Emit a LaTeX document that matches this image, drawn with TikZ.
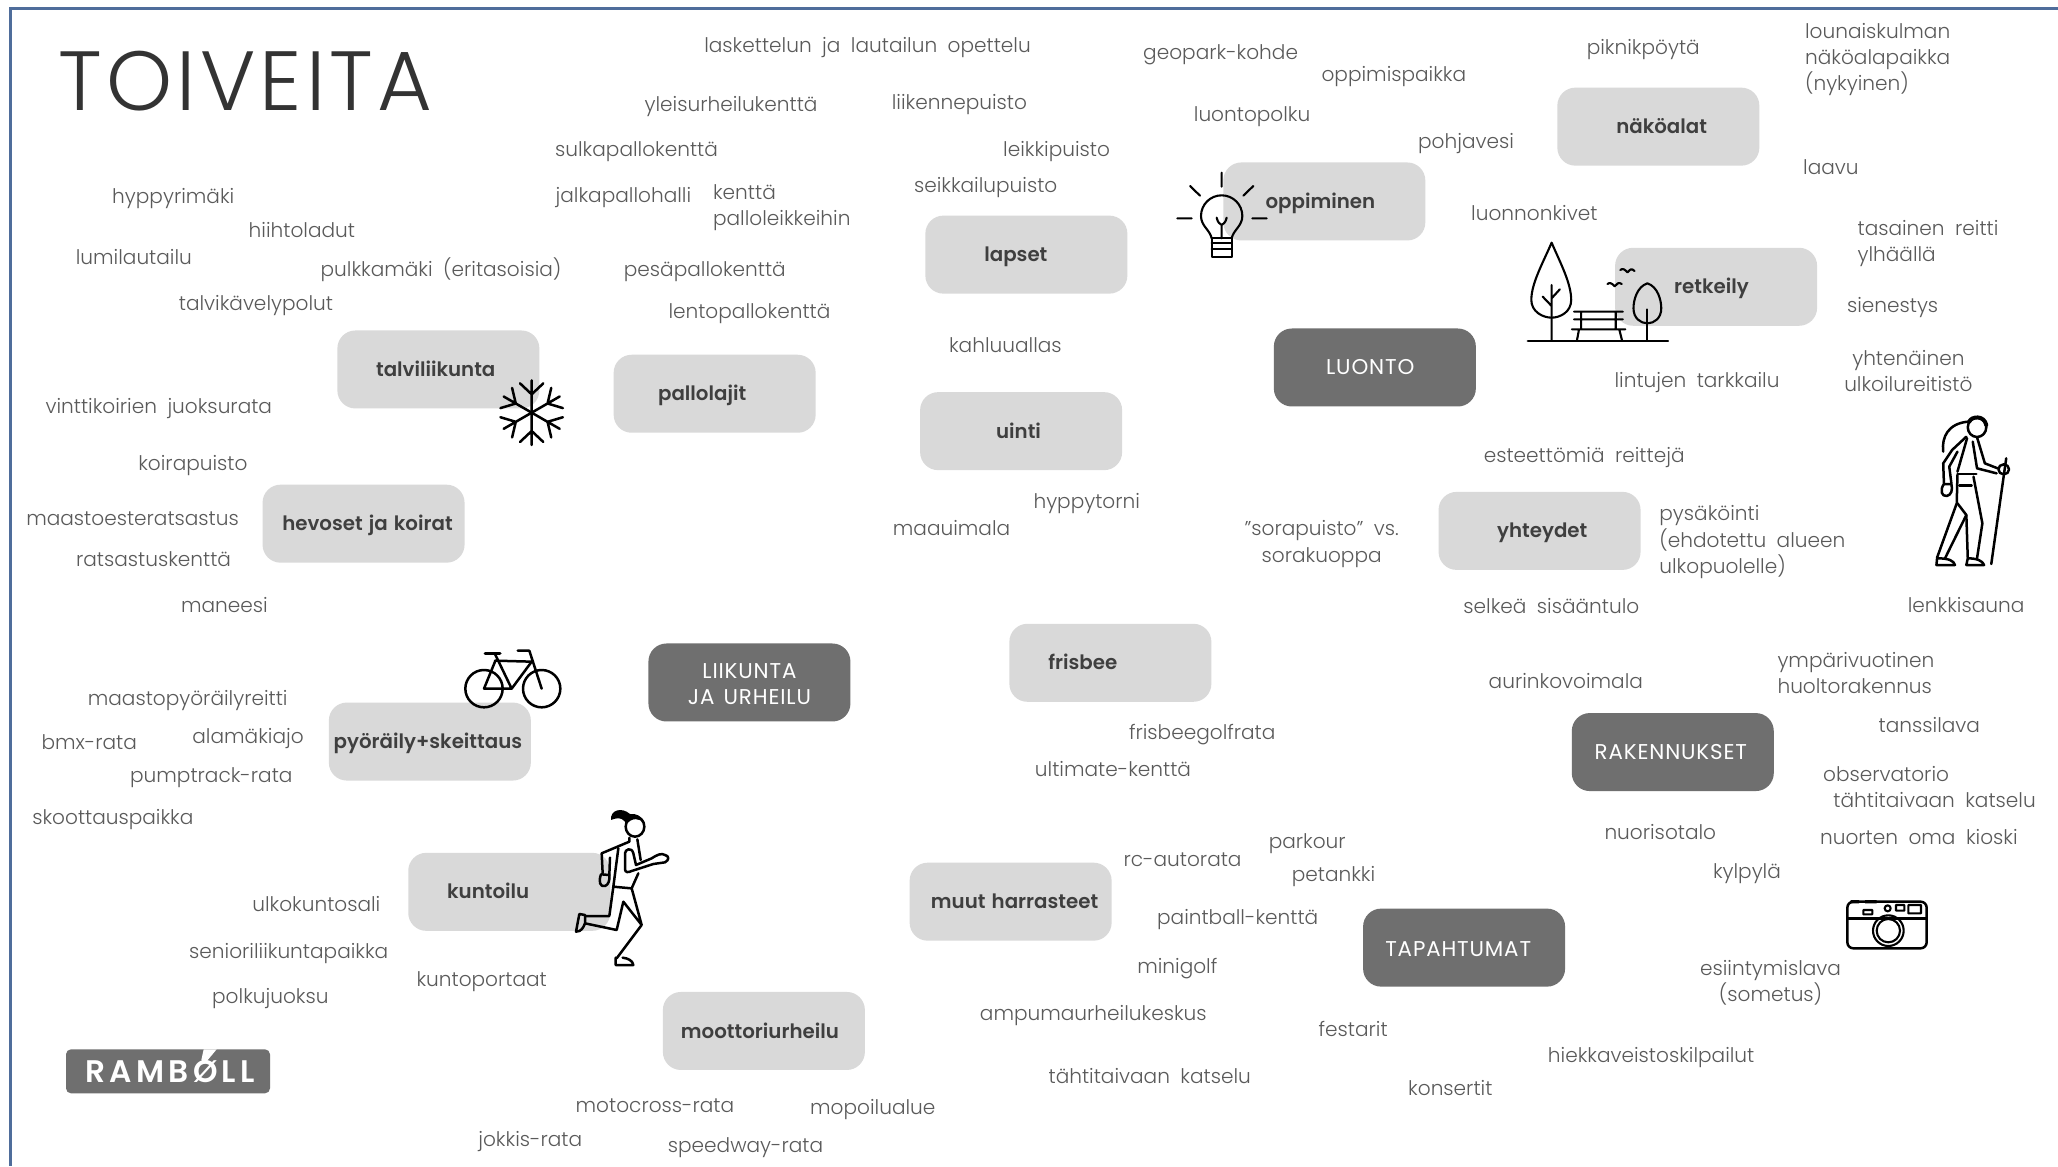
\documentclass[tikz,border=0pt]{standalone}
\usepackage{fontspec}
\setmainfont{Poppins Light}[WordSpace=1.9]
\newfontfamily\semi{Poppins SemiBold}[WordSpace=1.3]
\newfontfamily\darkf{Poppins Regular}[LetterSpace=4,WordSpace=1.4]
\newfontfamily\logof{Poppins SemiBold}[LetterSpace=14]
\newfontfamily\titlef{Poppins Light}[LetterSpace=5]
\definecolor{lgray}{HTML}{D9D9D9}
\definecolor{dgray}{HTML}{6F6F6F}
\definecolor{lab}{HTML}{5A5A5A}
\definecolor{boxt}{HTML}{3F3F3F}
\definecolor{frame}{HTML}{4F6D9B}
\tikzset{
 lbl/.style={text=lab,font=\fontsize{10.05}{13.1}\selectfont,inner sep=0pt,text height=7pt,text depth=2pt,yshift=-1pt},
 mlbl/.style={text=lab,font=\fontsize{10.05}{13.1}\selectfont,inner sep=0pt,yshift=-1pt},
 lbox/.style={fill=lgray,rounded corners=9pt,minimum width=101pt,minimum height=39pt,inner sep=0pt},
 dbox/.style={fill=dgray,rounded corners=9pt,minimum width=101pt,minimum height=39pt,inner sep=0pt},
 ltx/.style={text=boxt,font=\semi\fontsize{9.9}{13}\selectfont,inner sep=0pt,text height=7pt,text depth=2pt,yshift=-1pt},
 dtx/.style={text=white,font=\darkf\fontsize{10.7}{13.1}\selectfont,inner sep=0pt,align=center},
 icon/.style={line width=1.05pt,draw=black,line cap=round,line join=round},
 ficon/.style={line width=1.25pt,draw=black,line cap=round,line join=round},
}
\newcommand{\IconAt}[2]{\begin{scope}[shift={(#1/1.3125,#2/1.3125)},x=0.16667pt,y=-0.16667pt]}
\begin{document}
\begin{tikzpicture}[x=0.65625pt,y=-0.65625pt]
\useasboundingbox (0,0) rectangle (1568,888.4);
\fill[white] (0,0) rectangle (1568,888.4);
\draw[frame,line width=1.5pt] (1568,6.8) -- (7.8,6.8) -- (7.8,888.4);
\node[text=black!80,font=\titlef\fontsize{42}{42}\selectfont,inner sep=0pt,anchor=center] (title) at (187,62) {TOIVEITA};
% boxes
\node[lbox] (b1) at (334,281.5) {};
\node[lbox] (b2) at (544.5,300) {};
\node[lbox] (b3) at (782,194) {};
\node[lbox] (b4) at (778,328.5) {};
\node[lbox] (b5) at (277,399) {};
\node[lbox] (b6) at (327.5,565) {};
\node[lbox] (b7) at (388,679.5) {};
\node[lbox] (b8) at (582,785.5) {};
\node[lbox] (b9) at (770,687) {};
\node[lbox] (b10) at (846,505) {};
\node[lbox] (b11) at (1009,153.5) {};
\node[lbox] (b12) at (1263.5,96.5) {};
\node[lbox] (b13) at (1307.5,218.5) {};
\node[lbox] (b14) at (1173,404.5) {};
\node[dbox] (d1) at (571,520) {};
\node[dbox] (d2) at (1047.5,280) {};
\node[dbox] (d3) at (1274.5,573) {};
\node[dbox] (d4) at (1115.5,722) {};
% box texts
\node[ltx] (x1) at (332,281.5) {talviliikunta};
\node[ltx] (x2) at (535,299.5) {pallolajit};
\node[ltx] (x3) at (774,194) {lapset};
\node[ltx] (x4) at (776,328.5) {uinti};
\node[ltx] (x5) at (280,399) {hevoset ja koirat};
\node[ltx] (x6) at (326,565) {pyöräily+skeittaus};
\node[ltx] (x7) at (372,679) {kuntoilu};
\node[ltx] (x8) at (579,786) {moottoriurheilu};
\node[ltx] (x9) at (773,687) {muut harrasteet};
\node[ltx] (x10) at (825,505) {frisbee};
\node[ltx] (x11) at (1006,153.5) {oppiminen};
\node[ltx] (x12) at (1266,96.5) {näköalat};
\node[ltx] (x13) at (1304,218.5) {retkeily};
\node[ltx] (x14) at (1175,404) {yhteydet};
\node[dtx] (y1) at (571,521) {LIIKUNTA\\JA URHEILU};
\node[dtx] (y2) at (1044,280) {LUONTO};
\node[dtx] (y3) at (1273,573) {RAKENNUKSET};
\node[dtx] (y4) at (1111,723) {TAPAHTUMAT};
% labels
\node[lbl] (t1) at (661,35) {laskettelun ja lautailun opettelu};
\node[lbl] (t2) at (557,80) {yleisurheilukenttä};
\node[lbl] (t3) at (731,78) {liikennepuisto};
\node[lbl] (t4) at (485,114) {sulkapallokenttä};
\node[lbl] (t5) at (805,114) {leikkipuisto};
\node[lbl] (t6) at (751,141) {seikkailupuisto};
\node[lbl] (t7) at (475,149) {jalkapallohalli};
\node[mlbl,align=left,anchor=west] (t8) at (543,156.5) {kenttä\\palloleikkeihin};
\node[lbl] (t9) at (132,150) {hyppyrimäki};
\node[lbl] (t10) at (230,176) {hiihtoladut};
\node[lbl] (t11) at (102,196) {lumilautailu};
\node[lbl] (t12) at (336,205) {pulkkamäki (eritasoisia)};
\node[lbl] (t13) at (537,205) {pesäpallokenttä};
\node[lbl] (t14) at (195,231) {talvikävelypolut};
\node[lbl] (t15) at (571,237) {lentopallokenttä};
\node[lbl] (t16) at (766,263) {kahluuallas};
\node[lbl] (t17) at (121,310) {vinttikoirien juoksurata};
\node[lbl] (t18) at (147,353) {koirapuisto};
\node[lbl] (t19) at (101,395) {maastoesteratsastus};
\node[lbl] (t20) at (117,426) {ratsastuskenttä};
\node[lbl] (t21) at (171,461) {maneesi};
\node[lbl] (t22) at (828,382) {hyppytorni};
\node[lbl] (t23) at (725,403) {maauimala};
\node[lbl] (t24) at (143,532) {maastopyöräilyreitti};
\node[lbl] (t25) at (189,561) {alamäkiajo};
\node[lbl] (t26) at (68,566) {bmx-rata};
\node[lbl] (t27) at (161,591) {pumptrack-rata};
\node[lbl] (t28) at (86,623) {skoottauspaikka};
\node[lbl] (t29) at (241,689) {ulkokuntosali};
\node[lbl] (t30) at (220,725) {senioriliikuntapaikka};
\node[lbl] (t31) at (367,746) {kuntoportaat};
\node[lbl] (t32) at (206,759) {polkujuoksu};
\node[lbl] (t33) at (499,842) {motocross-rata};
\node[lbl] (t34) at (665,844) {mopoilualue};
\node[lbl] (t35) at (404,868) {jokkis-rata};
\node[lbl] (t36) at (568,873) {speedway-rata};
\node[lbl] (t37) at (916,558) {frisbeegolfrata};
\node[lbl] (t38) at (848,586) {ultimate-kenttä};
\node[lbl] (t39) at (901,655) {rc-autorata};
\node[lbl] (t40) at (996,641) {parkour};
\node[lbl] (t41) at (1016,666) {petankki};
\node[lbl] (t42) at (943,699) {paintball-kenttä};
\node[lbl] (t43) at (897,736) {minigolf};
\node[lbl] (t44) at (833,772) {ampumaurheilukeskus};
\node[lbl] (t45) at (876,820) {tähtitaivaan katselu};
\node[lbl] (t46) at (1031,784) {festarit};
\node[lbl] (t47) at (1105,829) {konsertit};
\node[lbl] (t48) at (1258,804) {hiekkaveistoskilpailut};
\node[mlbl,align=center] (t49) at (1349,747) {esiintymislava\\(sometus)};
\node[lbl] (t50) at (1331,664) {kylpylä};
\node[lbl] (t51) at (1265,634) {nuorisotalo};
\node[lbl] (t52) at (1462,638) {nuorten oma kioski};
\node[lbl] (t53) at (1474,610) {tähtitaivaan katselu};
\node[lbl] (t54) at (1437,590) {observatorio};
\node[lbl] (t55) at (1470,553) {tanssilava};
\node[mlbl,align=left,anchor=west] (t56) at (1354,511.5) {ympärivuotinen\\huoltorakennus};
\node[lbl] (t57) at (1193,519) {aurinkovoimala};
\node[lbl] (t58) at (1182,462) {selkeä sisääntulo};
\node[lbl] (t59) at (1498,461) {lenkkisauna};
\node[mlbl,align=left,anchor=west] (t60) at (1264,411.5) {pysäköinti\\(ehdotettu alueen\\ulkopuolelle)};
\node[lbl] (t61) at (1207,347) {esteettömiä reittejä};
\node[mlbl,align=center] (t62) at (1007,413) {"sorapuisto" vs.\\sorakuoppa};
\node[lbl] (t63) at (1293,290) {lintujen tarkkailu};
\node[mlbl,align=center] (t64) at (1454,281) {yhtenäinen\\ulkoilureitistö};
\node[lbl] (t65) at (1442,233) {sienestys};
\node[mlbl,align=left,anchor=west] (t66) at (1415,184) {tasainen reitti\\ylhäällä};
\node[lbl] (t67) at (1395,128) {laavu};
\node[lbl] (t68) at (1169,163) {luonnonkivet};
\node[lbl] (t69) at (1117,108) {pohjavesi};
\node[lbl] (t70) at (954,87) {luontopolku};
\node[lbl] (t71) at (1062,57) {oppimispaikka};
\node[lbl] (t72) at (930,40) {geopark-kohde};
\node[lbl] (t73) at (1252,36) {piknikpöytä};
\node[mlbl,align=left,anchor=west] (t74) at (1375,44) {lounaiskulman\\näköalapaikka\\(nykyinen)};
% bulb
\IconAt{1150}{150}
\draw[icon] (185,265) .. controls (180,240) and (153,228) .. (153,198) arc (180:360:62) .. controls (277,228) and (250,240) .. (245,265);
\draw[icon] (185,265) rectangle (245,320) (185,280) -- (245,280) (185,298) -- (245,298);
\draw[icon] (215,265) -- (215,225) (200,203) .. controls (203,218) and (210,222) .. (215,225) .. controls (220,222) and (227,218) .. (230,203);
\draw[icon] (215,68) -- (215,110) (120,108) -- (150,137) (310,108) -- (280,137) (82,205) -- (125,205) (307,205) -- (350,205);
\end{scope}
% park and hiker
\begin{scope}[shift={(1500/1.3125,220/1.3125)},x=0.178pt,y=-0.16667pt]
\draw[icon] (145,68) .. controls (120,130) and (88,190) .. (88,240) .. controls (88,275) and (120,293) .. (145,293) .. controls (170,293) and (200,275) .. (200,240) .. controls (200,190) and (170,130) .. (145,68) -- cycle;
\draw[icon] (145,195) -- (145,362) (120,230) -- (145,258) (168,208) -- (145,235);
\draw[icon] (78,362) -- (472,362);
\draw[icon] (208,275) -- (345,275) (208,298) -- (345,298) (202,328) -- (352,328) (228,275) -- (228,328) (325,275) -- (325,328) (222,328) -- (216,362) (335,328) -- (343,362);
\draw[icon] (414,190) .. controls (385,200) and (375,240) .. (375,265) .. controls (375,295) and (395,310) .. (414,310) .. controls (433,310) and (453,295) .. (453,265) .. controls (453,240) and (443,200) .. (414,190) -- cycle;
\draw[icon] (414,268) -- (414,362);
\draw[icon] (338,150) .. controls (345,143) and (352,150) .. (358,157) .. controls (362,150) and (370,143) .. (378,153);
\draw[icon] (302,192) .. controls (309,185) and (316,192) .. (322,199) .. controls (326,192) and (334,185) .. (342,192);
% hiker
\draw[ficon] (1340,622) ellipse (26 and 29);
\draw[ficon,line width=2pt] (1318,605) .. controls (1325,588) and (1360,585) .. (1366,615);
\draw[ficon] (1245,695) .. controls (1240,650) and (1260,610) .. (1315,605);
\draw[ficon] (1310,650) -- (1270,690) -- (1245,730) -- (1247,790) (1285,695) -- (1262,740) -- (1268,790);
\draw[ficon] (1247,792) .. controls (1235,810) and (1240,830) .. (1255,828) .. controls (1268,825) and (1272,810) .. (1268,792) -- cycle;
\draw[ficon] (1312,655) -- (1285,755);
\draw[ficon] (1340,652) -- (1362,730) -- (1398,745) (1328,665) -- (1340,745) -- (1395,760);
\draw[ficon] (1415,748) circle (15);
\draw[ficon] (1422,715) -- (1380,1032);
\draw[ficon] (1285,762) -- (1338,762) (1290,797) -- (1325,797);
\draw[ficon] (1285,765) -- (1283,850) -- (1228,1012) -- (1226,1035) -- (1278,1035) .. controls (1275,1022) and (1260,1015) .. (1230,1015);
\draw[ficon] (1285,850) -- (1310,885) -- (1250,1015);
\draw[ficon] (1310,885) -- (1314,1015) -- (1310,1035) -- (1360,1035) .. controls (1355,1022) and (1340,1015) .. (1314,1015);
\draw[ficon] (1330,770) -- (1355,910) -- (1340,1015);
\end{scope}
% snowflake
\IconAt{480}{360}
\foreach \a in {0,60,...,300}{
\begin{scope}[shift={(155,158)},rotate=\a]
\draw[ficon] (0,0) -- (0,-97) (0,-55) -- (35,-88) (0,-55) -- (-35,-88);
\end{scope}}
\end{scope}
% bicycle
\IconAt{440}{630}
\draw[ficon] (132,176) circle (56) (305,176) circle (56);
\draw[ficon] (132,176) -- (215,176) -- (275,95) -- (165,92) (132,176) -- (165,95) (165,72) -- (215,176) (268,62) -- (305,176) (233,62) -- (268,62);
\draw[icon,line width=1.5pt] (135,71) -- (180,71);
\end{scope}
% runner
\IconAt{550}{790}
\draw[ficon] (255,110) ellipse (28 and 30);
\fill[black] (183,90) .. controls (180,60) and (215,50) .. (240,72) .. controls (255,70) and (275,75) .. (285,100) .. controls (270,85) and (245,80) .. (228,105) .. controls (228,90) and (210,78) .. (183,90) -- cycle;
\draw[ficon] (238,143) -- (238,155) -- (155,190) -- (158,250) (180,203) -- (178,255);
\draw[ficon] (153,253) .. controls (145,275) and (150,292) .. (165,288) .. controls (175,285) and (180,270) .. (178,255) -- cycle;
\draw[ficon] (205,175) -- (190,290) -- (243,295) (262,148) -- (272,210) (265,250) -- (245,295);
\draw[ficon] (225,190) .. controls (225,178) and (245,170) .. (250,190) -- (258,225) -- (305,205) (225,190) -- (225,238) .. controls (225,248) and (235,248) .. (245,243) -- (310,222) -- (345,217) .. controls (358,210) and (358,198) .. (345,195) .. controls (335,188) and (320,195) .. (305,205);
\draw[ficon] (190,290) -- (178,378) -- (105,378) (105,400) -- (200,420) -- (220,335) -- (275,405) -- (200,505) (245,295) -- (275,405);
\draw[ficon] (105,375) -- (88,372) -- (78,425) .. controls (95,425) and (100,412) .. (105,400) -- cycle;
\draw[ficon] (197,503) -- (197,525) -- (250,525) .. controls (248,512) and (235,505) .. (218,503);
\end{scope}
% camera
\IconAt{1820}{880}
\draw[ficon,rounded corners=3pt] (82,65) rectangle (320,205);
\draw[ficon] (82,115) -- (320,115);
\draw[icon] (205,152) circle (46) (205,152) circle (35);
\fill[black] (92,60) rectangle (117,70) (135,60) rectangle (170,70);
\draw[icon] (130,90) rectangle (157,103) (203,85) circle (9) (228,75) rectangle (253,92) (265,75) rectangle (303,100);
\end{scope}
% logo
\IconAt{40}{1020}
\fill[dgray,rounded corners=2.5pt] (78,88) rectangle (690,220);
\node[text=white,font=\logof\fontsize{15.6}{15}\selectfont,inner sep=0pt] (logo) at (390,154) {RAMBØLL};
\fill[white] (491,88) -- (530,88) -- (495,130) -- (484,120) -- cycle;
\end{scope}
\end{tikzpicture}
\end{document}
